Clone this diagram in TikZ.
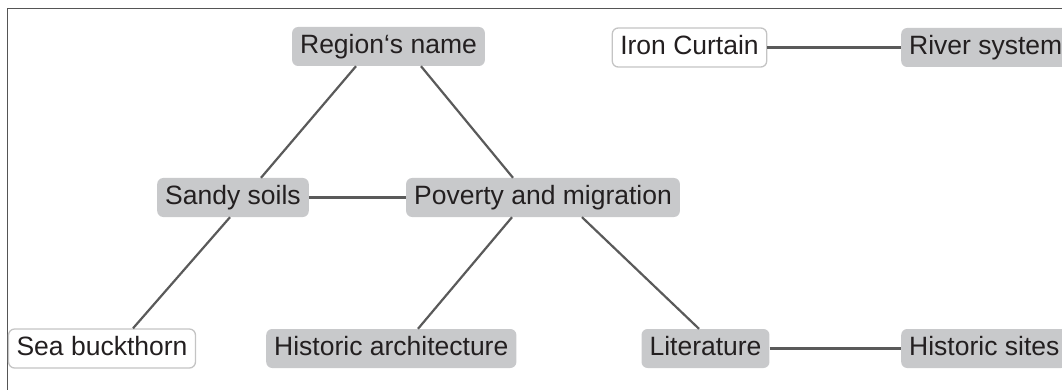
\documentclass[tikz,border=0pt]{standalone}
\usepackage{fontspec}
\setmainfont{Liberation Sans}
\definecolor{boxgray}{HTML}{C8C9CB}
\definecolor{txt}{HTML}{231F20}
\definecolor{edgec}{HTML}{5A5A5A}
\definecolor{wborder}{HTML}{C4C4C4}
\definecolor{framec}{HTML}{555555}
\tikzset{
  base/.style={rounded corners=6pt, inner xsep=8pt, inner ysep=0pt, minimum height=39pt,
    text height=19pt, text depth=5.5pt, text=txt, font=\fontsize{26.5pt}{30pt}\selectfont},
  graybox/.style={base, fill=boxgray},
  whitebox/.style={base, fill=white, draw=wborder, line width=1.3pt},
  edge/.style={draw=edgec, line width=2.2pt}
}
\begin{document}
\begin{tikzpicture}[x=1pt,y=-1pt]
\useasboundingbox (0,0) rectangle (1062,390);
\clip (0,0) rectangle (1062,390);
\draw[framec, line width=1.5pt] (7.5,8.3) -- (1080,8.3);
\draw[framec, line width=1.5pt] (7.5,8.3) -- (7.5,400);
\node[graybox] (rn) at (388.5,46.5) {Region‘s name};
\node[whitebox] (ic) at (689.5,47.5) {Iron Curtain};
\node[graybox, anchor=west] (rs) at (901,47.5) {River system};
\node[graybox] (ss) at (233,197.5) {Sandy soils};
\node[graybox] (pm) at (543,197.5) {Poverty and migration};
\node[whitebox] (sb) at (102,348.5) {Sea buckthorn};
\node[graybox, anchor=west] (ha) at (266,348.5) {Historic architecture};
\node[graybox] (lit) at (705.5,348.5) {Literature};
\node[graybox, anchor=west] (hs) at (901,348.5) {Historic sites};
\draw[edge] ([xshift=-32.5pt]rn.south) -- ([xshift=28pt]ss.north);
\draw[edge] ([xshift=32.5pt]rn.south) -- ([xshift=-30pt]pm.north);
\draw[edge] (ss.east) -- (pm.west);
\draw[edge] ([xshift=-3pt]ss.south) -- ([xshift=31pt]sb.north);
\draw[edge] ([xshift=-31pt]pm.south) -- ([xshift=152pt]ha.north west);
\draw[edge] ([xshift=39pt]pm.south) -- ([xshift=-6.5pt]lit.north);
\draw[edge] (lit.east) -- (hs.west);
\draw[edge] (ic.east) -- (rs.west);
\end{tikzpicture}
\end{document}
